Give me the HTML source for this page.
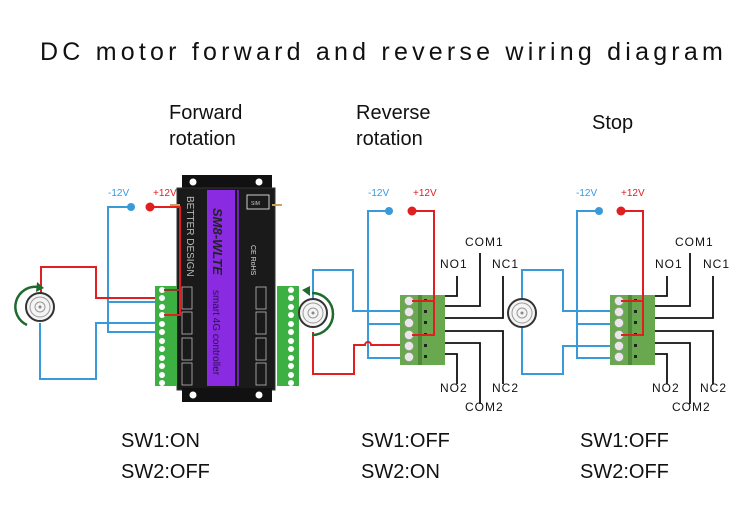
<!DOCTYPE html>
<html><head><meta charset="utf-8"><style>
html,body{margin:0;padding:0;background:#fff;width:750px;height:507px;overflow:hidden}
svg{display:block}
text{font-family:"Liberation Sans",sans-serif}
</style></head><body>
<svg width="750" height="507" viewBox="0 0 750 507" xmlns="http://www.w3.org/2000/svg">
<defs>
<g id="tb">
 <rect x="0" y="0" width="45" height="70" fill="#6aa84f"/>
 <rect x="18" y="0" width="4" height="70" fill="#4e8a3a"/>
 <g fill="#e8e8e8" stroke="#999" stroke-width="0.6">
  <circle cx="9" cy="6" r="4.5"/><circle cx="9" cy="17" r="4.5"/><circle cx="9" cy="28" r="4.5"/>
  <circle cx="9" cy="40" r="4.5"/><circle cx="9" cy="51" r="4.5"/><circle cx="9" cy="62" r="4.5"/>
 </g>
 <g fill="#222"><rect x="24" y="4" width="3" height="3"/><rect x="24" y="15" width="3" height="3"/><rect x="24" y="26" width="3" height="3"/><rect x="24" y="38" width="3" height="3"/><rect x="24" y="49" width="3" height="3"/><rect x="24" y="60" width="3" height="3"/></g>
</g>
<g id="motor">
 <circle r="14" fill="#f4f4f4" stroke="#333" stroke-width="2"/>
 <circle r="10" fill="none" stroke="#999" stroke-width="1"/>
 <circle r="5" fill="none" stroke="#999" stroke-width="1"/>
 <circle r="1.5" fill="#888"/>
</g>
<g id="relaylines" fill="none" stroke="#111" stroke-width="1.8">
 <path d="M45 0 H57 V-20"/><path d="M45 10 H80 V-43"/><path d="M45 22 H103 V-20"/>
 <path d="M45 35 H103 V88"/><path d="M45 47 H80 V108"/><path d="M45 58 H57 V88"/>
</g>
</defs>

<text x="40" y="60" font-family="Liberation Mono" font-size="25" letter-spacing="1.2" fill="#111" textLength="684">DC motor forward and reverse wiring diagram</text>

<g font-size="20" fill="#111">
<text x="169" y="119">Forward</text><text x="169" y="145">rotation</text>
<text x="356" y="119">Reverse</text><text x="356" y="145">rotation</text>
<text x="592" y="129">Stop</text>
</g>
<g font-size="20" fill="#111">
<text x="121" y="447">SW1:ON</text><text x="121" y="478">SW2:OFF</text>
<text x="361" y="447">SW1:OFF</text><text x="361" y="478">SW2:ON</text>
<text x="580" y="447">SW1:OFF</text><text x="580" y="478">SW2:OFF</text>
</g>

<!-- Panel 1 -->
<g font-size="10"><text x="108" y="196" fill="#3a9ad9">-12V</text><text x="153" y="196" fill="#e02020">+12V</text></g>
<path d="M131 207 H108 V332 H155 M108 302 H155" fill="none" stroke="#3a9ad9" stroke-width="2"/>
<path d="M40 323 V379 H96 V323 H155" fill="none" stroke="#3a9ad9" stroke-width="2"/>
<path d="M41 293 V267 H96 V298 H155" fill="none" stroke="#e02020" stroke-width="2"/>
<!-- controller -->
<rect x="182" y="175" width="90" height="16" fill="#111"/>
<rect x="177" y="188" width="98" height="202" fill="#1a1a1a" stroke="#333"/>
<rect x="182" y="388" width="90" height="14" fill="#111"/>
<circle cx="193" cy="182" r="3.5" fill="#fff"/><circle cx="259" cy="182" r="3.5" fill="#fff"/>
<circle cx="193" cy="395" r="3.5" fill="#fff"/><circle cx="259" cy="395" r="3.5" fill="#fff"/>
<rect x="207" y="190" width="28" height="196" fill="#8a2be2"/>
<line x1="238" y1="190" x2="238" y2="386" stroke="#8a2be2" stroke-width="1.5"/>
<text transform="translate(213,208) rotate(90)" font-size="13" font-weight="bold" font-style="italic" fill="#222">SM8-WLTE</text>
<text transform="translate(213,290) rotate(90)" font-size="10" fill="#2a1050">smart 4G controller</text>
<text transform="translate(187,196) rotate(90)" font-size="10" fill="#bbb">BETTER DESIGN</text>
<rect x="247" y="195" width="22" height="14" fill="none" stroke="#ccc"/><text x="251" y="205" font-size="5" fill="#ccc">SIM</text>
<text transform="translate(251,245) rotate(90)" font-size="7" fill="#ddd">CE RoHS</text>
<g fill="none" stroke="#bbb" stroke-width="0.8">
 <rect x="182" y="287" width="10" height="22"/><rect x="182" y="312" width="10" height="22"/><rect x="182" y="338" width="10" height="22"/><rect x="182" y="363" width="10" height="22"/>
 <rect x="256" y="287" width="10" height="22"/><rect x="256" y="312" width="10" height="22"/><rect x="256" y="338" width="10" height="22"/><rect x="256" y="363" width="10" height="22"/>
</g>
<line x1="272" y1="205" x2="282" y2="205" stroke="#c8a060" stroke-width="2"/>
<line x1="170" y1="205" x2="180" y2="205" stroke="#c8a060" stroke-width="2"/>
<!-- green blocks -->
<g>
 <rect x="155" y="286" width="22" height="100" fill="#3cb043"/>
 <rect x="277" y="286" width="22" height="100" fill="#3cb043"/>
 <g fill="#fff">
  <circle cx="162" cy="290" r="3"/><circle cx="162" cy="298" r="3"/><circle cx="162" cy="307" r="3"/><circle cx="162" cy="315" r="3"/><circle cx="162" cy="324" r="3"/><circle cx="162" cy="332" r="3"/><circle cx="162" cy="341" r="3"/><circle cx="162" cy="349" r="3"/><circle cx="162" cy="358" r="3"/><circle cx="162" cy="366" r="3"/><circle cx="162" cy="375" r="3"/><circle cx="162" cy="383" r="3"/>
  <circle cx="291" cy="290" r="3"/><circle cx="291" cy="298" r="3"/><circle cx="291" cy="307" r="3"/><circle cx="291" cy="315" r="3"/><circle cx="291" cy="324" r="3"/><circle cx="291" cy="332" r="3"/><circle cx="291" cy="341" r="3"/><circle cx="291" cy="349" r="3"/><circle cx="291" cy="358" r="3"/><circle cx="291" cy="366" r="3"/><circle cx="291" cy="375" r="3"/><circle cx="291" cy="383" r="3"/>
 </g>
</g>
<path d="M150 207 H180 V315 H164" fill="none" stroke="#e02020" stroke-width="2"/>
<path d="M164 290 H180" stroke="#8b3a2a" stroke-width="2"/>
<circle cx="131" cy="207" r="4" fill="#3a9ad9"/><circle cx="150" cy="207" r="4.5" fill="#e02020"/>
<use href="#motor" x="40" y="307"/>
<path d="M27 325 A20 20 0 0 1 38 287" fill="none" stroke="#1e6b2e" stroke-width="2.5"/>
<path d="M37 282 L44 288 L36 292 Z" fill="#1e6b2e"/>

<!-- Panel 2 -->
<g font-size="10"><text x="368" y="196" fill="#3a9ad9">-12V</text><text x="413" y="196" fill="#e02020">+12V</text></g>
<path d="M389 211 H368 V358 H408 M368 324 H408" fill="none" stroke="#3a9ad9" stroke-width="2"/>
<path d="M313 299 V270 H353 V311 H408" fill="none" stroke="#3a9ad9" stroke-width="2"/>
<path d="M313 332 V374 H354 V345 H365 A3 3 0 0 1 371 345 H408" fill="none" stroke="#e02020" stroke-width="2"/>
<use href="#tb" x="400" y="295"/>
<path d="M412 211 H434 V335 H412 M412 301 H434" fill="none" stroke="#e02020" stroke-width="2"/>
<circle cx="389" cy="211" r="4" fill="#3a9ad9"/><circle cx="412" cy="211" r="4.5" fill="#e02020"/>
<use href="#relaylines" x="400" y="296"/>
<use href="#motor" x="313" y="313"/>
<path d="M312 335 A20 20 0 0 0 312 293" fill="none" stroke="#1e6b2e" stroke-width="2.5"/>
<path d="M302 290 L310 286 L310 296 Z" fill="#1e6b2e"/>
<g font-size="12" fill="#111" letter-spacing="1">
<text x="465" y="246">COM1</text><text x="440" y="268">NO1</text><text x="492" y="268">NC1</text>
<text x="440" y="392">NO2</text><text x="492" y="392">NC2</text><text x="465" y="411">COM2</text>
</g>

<!-- Panel 3 -->
<g font-size="10"><text x="576" y="196" fill="#3a9ad9">-12V</text><text x="621" y="196" fill="#e02020">+12V</text></g>
<path d="M599 211 H577 V358 H617 M577 324 H617" fill="none" stroke="#3a9ad9" stroke-width="2"/>
<path d="M522 299 V270 H563 V311 H617" fill="none" stroke="#3a9ad9" stroke-width="2"/>
<path d="M522 327 V374 H563 V346 H617" fill="none" stroke="#3a9ad9" stroke-width="2"/>
<use href="#tb" x="610" y="295"/>
<path d="M621 211 H643 V335 H621 M621 301 H643" fill="none" stroke="#e02020" stroke-width="2"/>
<circle cx="599" cy="211" r="4" fill="#3a9ad9"/><circle cx="621" cy="211" r="4.5" fill="#e02020"/>
<use href="#relaylines" x="610" y="296"/>
<use href="#motor" x="522" y="313"/>
<g font-size="12" fill="#111" letter-spacing="1">
<text x="675" y="246">COM1</text><text x="655" y="268">NO1</text><text x="703" y="268">NC1</text>
<text x="652" y="392">NO2</text><text x="700" y="392">NC2</text><text x="672" y="411">COM2</text>
</g>
</svg>
</body></html>
